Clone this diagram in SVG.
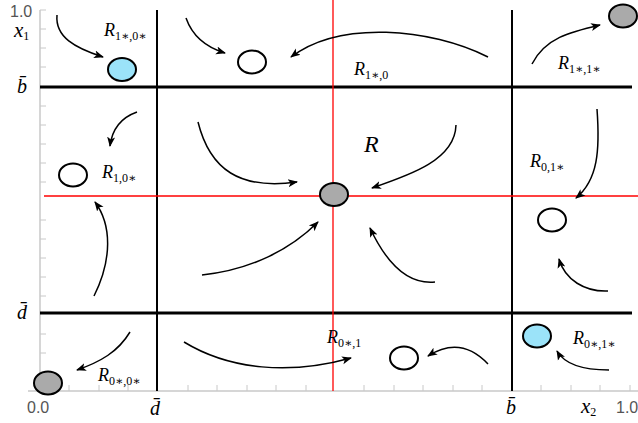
<svg xmlns="http://www.w3.org/2000/svg" width="638" height="423" viewBox="0 0 638 423">
<defs>
<marker id="ah" viewBox="0 0 10 10" refX="9" refY="5" markerWidth="10" markerHeight="10" markerUnits="userSpaceOnUse" orient="auto">
<path d="M0,1 L10,5 L0,9 L2.5,5 Z" fill="#000"/>
</marker>
<style>
.ax{stroke:#c8c8c8;stroke-width:1.5;fill:none}
.tk{stroke:#c8c8c8;stroke-width:1}
.thick{stroke:#000;stroke-width:3}
.vline{stroke:#000;stroke-width:2}
.red{stroke:#ff0000;stroke-width:1.3}
.arr{stroke:#000;stroke-width:1.5;fill:none;marker-end:url(#ah)}
.eq{stroke:#000;stroke-width:2}
.num{font-family:"Liberation Sans",Arial,sans-serif;font-size:16px;fill:#555}
.m{font-family:"Liberation Serif","DejaVu Serif",serif;font-style:italic;fill:#000}
.r{font-size:18px}
.s{font-size:12px;font-style:normal}
</style>
</defs>
<g id="axes">
<line class="ax" x1="40" y1="10" x2="40" y2="391"/>
<line class="ax" x1="28" y1="391" x2="638" y2="391"/>
<path class="tk" d="M40,10h6M40,29h6M40,48h6M40,67h6M40,106h6M40,125h6M40,144h6M40,163h6M40,182h6M40,220h6M40,239h6M40,258h6M40,277h6M40,296h6M40,334h6M40,353h6M40,372h6"/>
<path class="tk" d="M69,391v-6M99,391v-6M128,391v-6M188,391v-6M217,391v-6M247,391v-6M276,391v-6M306,391v-6M364,391v-6M394,391v-6M423,391v-6M453,391v-6M482,391v-6M541,391v-6M571,391v-6M600,391v-6M630,391v-6"/>
</g>
<g id="grid">
<line class="thick" x1="40" y1="87" x2="632" y2="87"/>
<line class="thick" x1="40" y1="313" x2="632" y2="313"/>
<line class="vline" x1="157" y1="10" x2="157" y2="391"/>
<line class="vline" x1="512" y1="10" x2="512" y2="391"/>
<line class="red" x1="333" y1="0" x2="333" y2="391"/>
<line class="red" x1="44" y1="196" x2="638" y2="196"/>
</g>
<g id="connectors">
<path class="arr" d="M57,15 C55,37 75,48 103,57"/>
<path class="arr" d="M186,18 C192,35 205,47 225,53"/>
<path class="arr" d="M488,57 C430,28 340,20 291,57"/>
<path class="arr" d="M532,64 C545,38 570,32 600,25"/>
<path class="arr" d="M137,112 C120,118 112,130 110,146"/>
<path class="arr" d="M198,122 C210,170 240,190 297,182"/>
<path class="arr" d="M456,125 C455,160 410,175 372,188"/>
<path class="arr" d="M597,109 C600,150 598,180 576,198"/>
<path class="arr" d="M94,296 C112,260 112,225 95,202"/>
<path class="arr" d="M202,275 C250,270 290,250 318,222"/>
<path class="arr" d="M435,282 C405,285 385,260 370,228"/>
<path class="arr" d="M608,291 C585,292 565,280 559,259"/>
<path class="arr" d="M130,332 C118,352 100,362 77,370"/>
<path class="arr" d="M184,342 C230,370 290,375 351,358"/>
<path class="arr" d="M488,364 C470,345 450,342 428,356"/>
<path class="arr" d="M609,370 C585,370 565,365 557,351"/>
</g>
<g id="eq-r1s0s"><ellipse class="eq" cx="122" cy="69.5" rx="14" ry="11.5" fill="#9be3f9"/></g>
<g id="eq-r1s0"><ellipse class="eq" cx="252" cy="62" rx="14" ry="11.5" fill="#fff"/></g>
<g id="eq-r1s1s"><ellipse class="eq" cx="623" cy="16" rx="14" ry="11.5" fill="#aaa"/></g>
<g id="eq-r10s"><ellipse class="eq" cx="73" cy="175" rx="14" ry="11.5" fill="#fff"/></g>
<g id="eq-R"><ellipse class="eq" cx="334" cy="194.5" rx="14" ry="11.5" fill="#aaa"/></g>
<g id="eq-r01s"><ellipse class="eq" cx="552" cy="220" rx="14" ry="11.5" fill="#fff"/></g>
<g id="eq-r0s0s"><ellipse class="eq" cx="48" cy="383" rx="14" ry="11.5" fill="#aaa"/></g>
<g id="eq-r0s1"><ellipse class="eq" cx="404" cy="358" rx="14" ry="11.5" fill="#fff"/></g>
<g id="eq-r0s1s"><ellipse class="eq" cx="537" cy="336" rx="14" ry="11.5" fill="#9be3f9"/></g>
<g id="labels">
<text class="num" x="10" y="17">1.0</text>
<text class="m" x="14" y="37" font-size="21">x<tspan class="s" font-size="15" dy="3">1</tspan></text>
<text class="m" x="17" y="93" font-size="20">b̄</text>
<text class="m" x="17" y="319" font-size="20">d̄</text>
<text class="num" x="27" y="413">0.0</text>
<text class="m" x="150" y="415" font-size="20">d̄</text>
<text class="m" x="506" y="414" font-size="20">b̄</text>
<text class="m" x="581" y="413" font-size="21">x<tspan class="s" font-size="15" dy="3">2</tspan></text>
<text class="num" x="616" y="413">1.0</text>
<text class="m r" x="104" y="36">R<tspan class="s" dy="4">1∗,0∗</tspan></text>
<text class="m r" x="354" y="75">R<tspan class="s" dy="4">1∗,0</tspan></text>
<text class="m r" x="558" y="69">R<tspan class="s" dy="4">1∗,1∗</tspan></text>
<text class="m" x="364" y="152" font-size="24">R</text>
<text class="m r" x="102" y="178">R<tspan class="s" dy="4">1,0∗</tspan></text>
<text class="m r" x="530" y="167">R<tspan class="s" dy="4">0,1∗</tspan></text>
<text class="m r" x="327" y="343">R<tspan class="s" dy="4">0∗,1</tspan></text>
<text class="m r" x="98" y="381">R<tspan class="s" dy="4">0∗,0∗</tspan></text>
<text class="m r" x="573" y="344">R<tspan class="s" dy="4">0∗,1∗</tspan></text>
</g>
</svg>
